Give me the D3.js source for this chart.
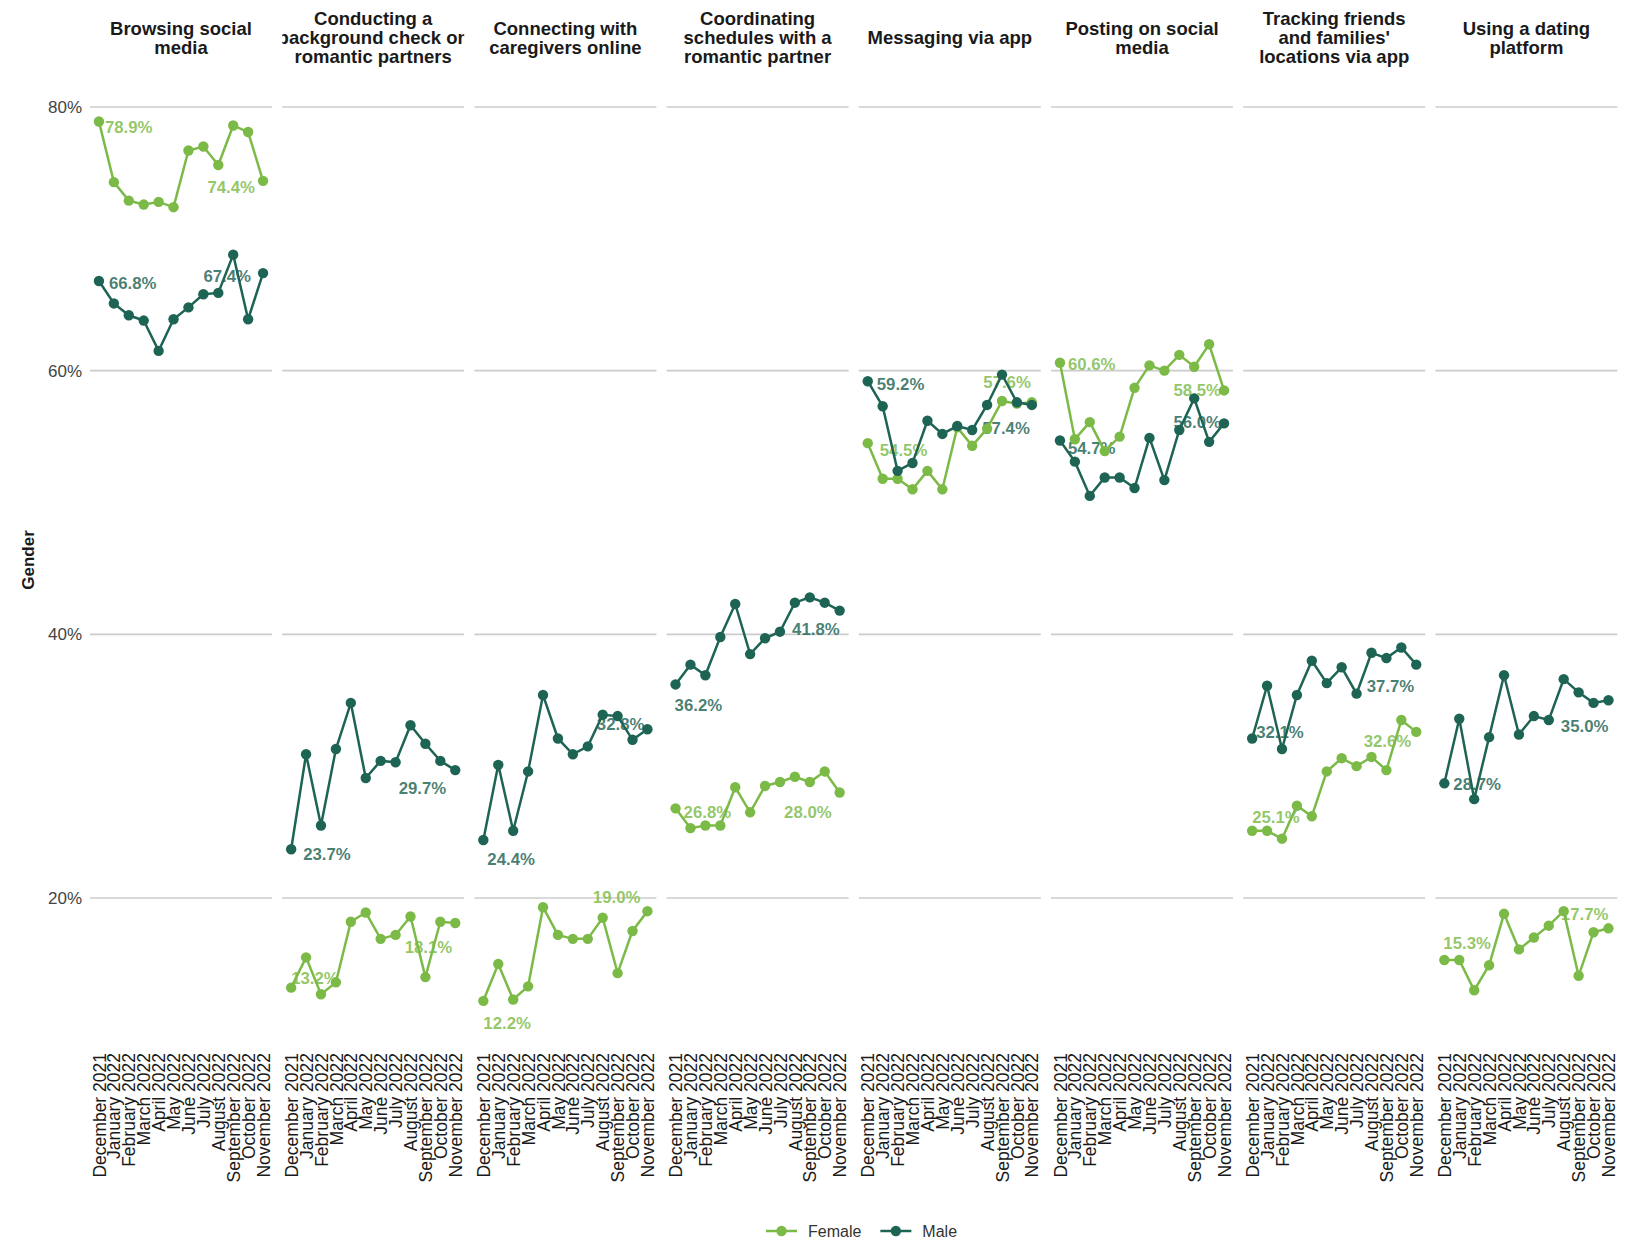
<!DOCTYPE html>
<html>
<head>
<meta charset="utf-8">
<script src="https://cdn.jsdelivr.net/npm/d3@7"></script>
<style>
  body { margin: 0; background: #fff; }
  svg { font-family: "Liberation Sans", Arial, sans-serif; }
</style>
</head>
<body>
<svg width="1649" height="1241"></svg>
<script>
var activities = [
  "Browsing social media",
  "Conducting a background check on romantic partners",
  "Connecting with caregivers online",
  "Coordinating schedules with a romantic partner",
  "Messaging via app",
  "Posting on social media",
  "Tracking friends and families' locations via app",
  "Using a dating platform"
];

var titleLines = [
  ["Browsing social", "media"],
  ["Conducting a", "background check on", "romantic partners"],
  ["Connecting with", "caregivers online"],
  ["Coordinating", "schedules with a", "romantic partner"],
  ["Messaging via app"],
  ["Posting on social", "media"],
  ["Tracking friends", "and families'", "locations via app"],
  ["Using a dating", "platform"]
];

var months = ["December 2021", "January 2022", "February 2022", "March 2022", "April 2022", "May 2022",
  "June 2022", "July 2022", "August 2022", "September 2022", "October 2022", "November 2022"];

var genders = ["Female", "Male"];

// percent of respondents, one row per activity, Dec 2021 .. Nov 2022
var femaleValues = [
  [78.9, 74.3, 72.9, 72.6, 72.8, 72.4, 76.7, 77.0, 75.6, 78.6, 78.1, 74.4],
  [13.2, 15.5, 12.7, 13.6, 18.2, 18.9, 16.9, 17.2, 18.6, 14.0, 18.2, 18.1],
  [12.2, 15.0, 12.3, 13.3, 19.3, 17.2, 16.9, 16.9, 18.5, 14.3, 17.5, 19.0],
  [26.8, 25.3, 25.5, 25.5, 28.4, 26.5, 28.5, 28.8, 29.2, 28.8, 29.6, 28.0],
  [54.5, 51.8, 51.8, 51.0, 52.4, 51.0, 55.7, 54.3, 55.6, 57.7, 57.5, 57.6],
  [60.6, 54.8, 56.1, 53.9, 55.0, 58.7, 60.4, 60.0, 61.2, 60.3, 62.0, 58.5],
  [25.1, 25.1, 24.5, 27.0, 26.2, 29.6, 30.6, 30.0, 30.7, 29.7, 33.5, 32.6],
  [15.3, 15.3, 13.0, 14.9, 18.8, 16.1, 17.0, 17.9, 19.0, 14.1, 17.4, 17.7]
];

var maleValues = [
  [66.8, 65.1, 64.2, 63.8, 61.5, 63.9, 64.8, 65.8, 65.9, 68.8, 63.9, 67.4],
  [23.7, 30.9, 25.5, 31.3, 34.8, 29.1, 30.4, 30.3, 33.1, 31.7, 30.4, 29.7],
  [24.4, 30.1, 25.1, 29.6, 35.4, 32.1, 30.9, 31.5, 33.9, 33.8, 32.0, 32.8],
  [36.2, 37.7, 36.9, 39.8, 42.3, 38.5, 39.7, 40.2, 42.4, 42.8, 42.4, 41.8],
  [59.2, 57.3, 52.4, 53.0, 56.2, 55.2, 55.8, 55.5, 57.4, 59.7, 57.6, 57.4],
  [54.7, 53.1, 50.5, 51.9, 51.9, 51.1, 54.9, 51.7, 55.5, 57.9, 54.6, 56.0],
  [32.1, 36.1, 31.3, 35.4, 38.0, 36.3, 37.5, 35.5, 38.6, 38.2, 39.0, 37.7],
  [28.7, 33.6, 27.5, 32.2, 36.9, 32.4, 33.8, 33.5, 36.6, 35.6, 34.8, 35.0]
];

var yTicks = [20, 40, 60, 80];

// label offsets (px) for first / last point: [dxFirst, dyFirst, dxLast, dyLast]
var femaleNudge = [[6, 6, -8, 6], [0, -10, -3, 24], [0, 22, -7, -14], [8, 4, -8, 20],
  [12, 7, -1, -20], [8, 1, -3, 0], [0, -14, -5, 9], [-1, -17, 0, -14]];
var maleNudge = [[10, 2, -12, 3], [12, 5, -9, 18], [4, 19, -3, -5], [-1, 21, 0, 19],
  [9, 3, -2, 23], [8, 8, -3, -1], [4, -6, -2, 21], [9, 1, 0, 26]];

var svg = d3.select("svg"),
    width = +svg.attr("width"),
    height = +svg.attr("height");

var color = d3.scaleOrdinal().domain(genders).range(["#7cba48", "#1e6455"]);

var panel = d3.scaleBand().domain(activities).range([90, 1617.4]).paddingInner(0.0531);
var y = d3.scaleLinear().domain([20, 80]).range([898, 107]);

// y axis, left of first panel only
svg.append("g")
    .attr("transform", "translate(90,0)")
    .call(d3.axisLeft(y).tickValues(yTicks).tickFormat(function(d) { return d + "%"; }).tickSize(0).tickPadding(8))
    .call(function(g) { g.select(".domain").remove(); })
    .selectAll("text")
    .attr("font-size", 17)
    .attr("font-family", "Liberation Sans, Arial, sans-serif")
    .attr("fill", "#444");

svg.append("text")
    .attr("transform", "translate(28,560) rotate(-90)")
    .attr("text-anchor", "middle")
    .attr("dy", "0.35em")
    .attr("font-size", 17)
    .attr("font-weight", "bold")
    .attr("fill", "#1a1a1a")
    .text("Gender");

var defs = svg.append("defs");

activities.forEach(function(act, i) {
  var x0 = panel(act), bw = panel.bandwidth();
  var x = d3.scalePoint().domain(months).range([x0, x0 + bw]).padding(0.6);
  var g = svg.append("g").attr("class", "panel");

  // strip title, clipped to the panel width
  defs.append("clipPath").attr("id", "clip" + i)
    .append("rect").attr("x", x0).attr("y", 0).attr("width", bw).attr("height", 90);
  var lines = titleLines[i];
  var title = g.append("text")
      .attr("clip-path", "url(#clip" + i + ")")
      .attr("text-anchor", "middle")
      .attr("font-size", 18.5)
      .attr("font-weight", "bold")
      .attr("fill", "#1a1a1a");
  lines.forEach(function(line, k) {
    title.append("tspan")
      .attr("x", x0 + bw / 2)
      .attr("y", 38 + (k - (lines.length - 1) / 2) * 19)
      .attr("dy", "0.35em")
      .text(line);
  });

  // gridlines
  g.selectAll("line.grid").data(yTicks).enter().append("line")
      .attr("class", "grid")
      .attr("x1", x0).attr("x2", x0 + bw)
      .attr("y1", function(d) { return y(d); })
      .attr("y2", function(d) { return y(d); })
      .attr("stroke", "#cccccc")
      .attr("stroke-width", 1.6);

  // month axis
  g.append("g")
      .attr("transform", "translate(0,1050)")
      .call(d3.axisBottom(x).tickSize(0))
      .call(function(a) { a.select(".domain").remove(); })
      .selectAll("text")
      .attr("transform", "rotate(-90)")
      .attr("x", -3)
      .attr("y", 0)
      .attr("dy", "0.35em")
      .attr("text-anchor", "end")
      .attr("font-size", 17.5)
      .attr("font-family", "Liberation Sans, Arial, sans-serif")
      .attr("fill", "#1a1a1a");

  var series = [
    { key: "Female", values: femaleValues[i], nudge: femaleNudge[i] },
    { key: "Male", values: maleValues[i], nudge: maleNudge[i] }
  ];

  // end labels first, so the lines sit over them
  series.forEach(function(s) {
    var n = s.values.length;
    var ends = [
      { j: 0, dx: s.nudge[0], dy: s.nudge[1], anchor: "start" },
      { j: n - 1, dx: s.nudge[2], dy: s.nudge[3], anchor: "end" }
    ];
    g.selectAll(null).data(ends).enter().append("text")
        .attr("x", function(d) { return x(months[d.j]) + d.dx; })
        .attr("y", function(d) { return y(s.values[d.j]) + d.dy; })
        .attr("dy", "0.35em")
        .attr("text-anchor", function(d) { return d.anchor; })
        .attr("font-size", 16.8)
        .attr("font-weight", "bold")
        .attr("fill", color(s.key))
        .attr("fill-opacity", 0.82)
        .text(function(d) { return s.values[d.j].toFixed(1) + "%"; });
  });

  var line = d3.line()
      .x(function(d, j) { return x(months[j]); })
      .y(function(d) { return y(d); });

  series.forEach(function(s) {
    g.append("path")
        .datum(s.values)
        .attr("d", line)
        .attr("fill", "none")
        .attr("stroke", color(s.key))
        .attr("stroke-width", 2.5);
    g.selectAll(null).data(s.values).enter().append("circle")
        .attr("cx", function(d, j) { return x(months[j]); })
        .attr("cy", function(d) { return y(d); })
        .attr("r", 5.2)
        .attr("fill", color(s.key));
  });
});

// legend
var legend = svg.append("g").attr("transform", "translate(766,1231)");
var lx = 0;
genders.forEach(function(gd) {
  var item = legend.append("g").attr("transform", "translate(" + lx + ",0)");
  item.append("line").attr("x1", 0).attr("x2", 31).attr("y1", 0).attr("y2", 0)
      .attr("stroke", color(gd)).attr("stroke-width", 2.5);
  item.append("circle").attr("cx", 15.5).attr("cy", 0).attr("r", 5.2).attr("fill", color(gd));
  var t = item.append("text").attr("x", 42).attr("dy", "0.35em")
      .attr("font-size", 16).attr("fill", "#333").text(gd);
  lx += 42 + t.node().getComputedTextLength() + 19;
});
</script>
</body>
</html>
